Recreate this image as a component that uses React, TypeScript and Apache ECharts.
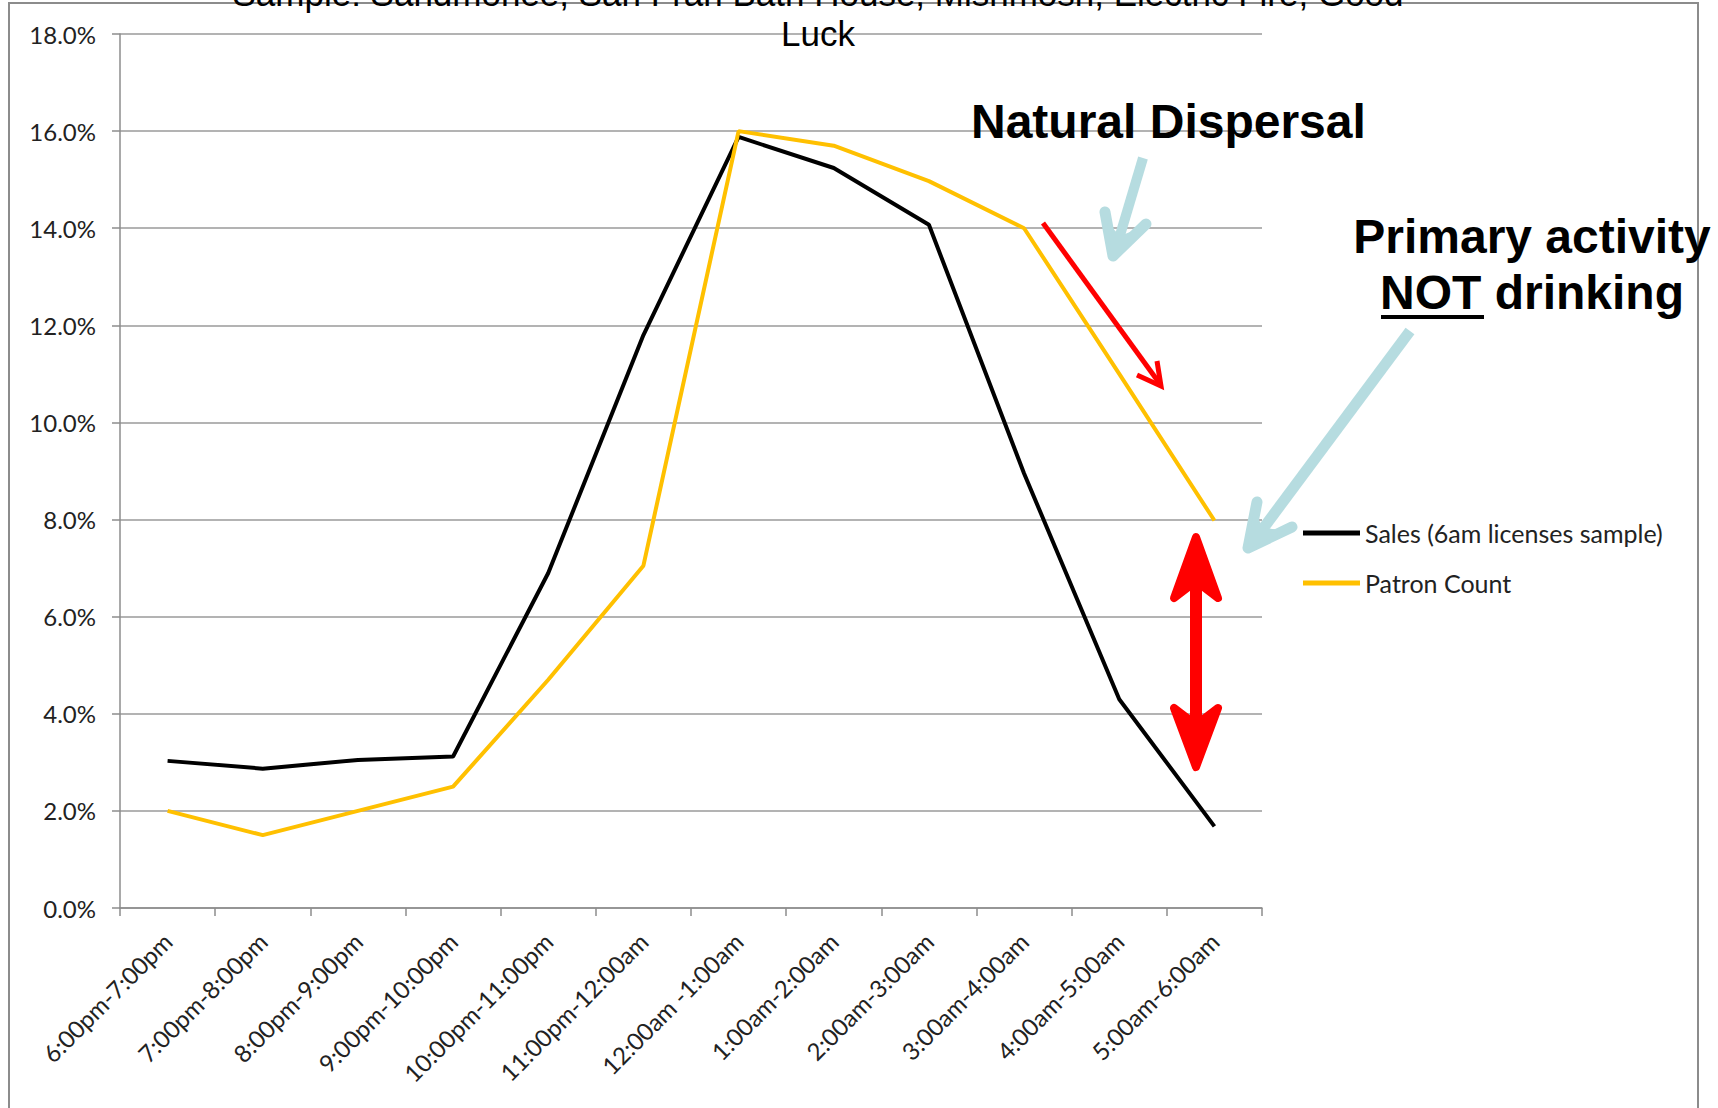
import React, { useEffect, useRef } from "react";
import * as echarts from "echarts";

const categories = [
  "6:00pm-7:00pm",
  "7:00pm-8:00pm",
  "8:00pm-9:00pm",
  "9:00pm-10:00pm",
  "10:00pm-11:00pm",
  "11:00pm-12:00am",
  "12:00am -1:00am",
  "1:00am-2:00am",
  "2:00am-3:00am",
  "3:00am-4:00am",
  "4:00am-5:00am",
  "5:00am-6:00am",
];
const salesValues = [3.03, 2.87, 3.05, 3.12, 6.9, 11.8, 15.88, 15.24, 14.07, 8.95, 4.3, 1.68];
const patronValues = [2.0, 1.5, 2.0, 2.5, 4.7, 7.05, 16.0, 15.7, 14.97, 14.0, 11.0, 7.98];
const yTicks = { min: 0, max: 18, interval: 2 };
const titleLine1 = "Sample: Sandmonee, San Fran Bath House, Mishmosh, Electric Fire, Good";
const titleLine2 = "Luck";
const seriesNames = ["Sales (6am licenses sample)", "Patron Count"];

const BLUE = "#b6dce0";
const RED = "#ff0000";

export default function App() {
  const ref = useRef<HTMLDivElement>(null);
  useEffect(() => {
    if (!ref.current) return;
    const chart = echarts.init(ref.current, undefined, { renderer: "svg" });
    const option: any = {
      animation: false,
      backgroundColor: "#ffffff",
      grid: { left: 120, right: 456, top: 34, bottom: 200, containLabel: false },
      legend: {
        orient: "vertical",
        left: 1298,
        top: 514,
        itemWidth: 57,
        itemHeight: 5,
        itemGap: 22,
        icon: "rect",
        textStyle: { fontFamily: "Lato", fontSize: 25, color: "#222", lineHeight: 28 },
        data: seriesNames,
      },
      xAxis: {
        type: "category",
        data: categories,
        boundaryGap: true,
        axisLine: { lineStyle: { color: "#8c8c8c", width: 1.5 } },
        axisTick: { show: true, length: 8, interval: 0, lineStyle: { color: "#8c8c8c", width: 1.5 } },
        axisLabel: {
          interval: 0,
          rotate: 45,
          margin: 29,
          fontFamily: "Lato",
          fontSize: 24,
          color: "#222",
        },
        splitLine: { show: false },
      },
      yAxis: {
        type: "value",
        min: yTicks.min,
        max: yTicks.max,
        interval: yTicks.interval,
        axisLine: { show: true, lineStyle: { color: "#8c8c8c", width: 1.5 } },
        axisTick: { show: true, length: 8, lineStyle: { color: "#8c8c8c", width: 1.5 } },
        axisLabel: {
          margin: 24,
          fontFamily: "Lato",
          fontSize: 24,
          color: "#222",
          formatter: (v: number) => v.toFixed(1) + "%",
        },
        splitLine: { show: true, lineStyle: { color: "#9a9a9a", width: 1.5 } },
      },
      series: [
        {
          name: seriesNames[0],
          type: "line",
          data: salesValues,
          showSymbol: false,
          symbol: "none",
          lineStyle: { color: "#000000", width: 4 },
          itemStyle: { color: "#000000" },
          z: 3,
        },
        {
          name: seriesNames[1],
          type: "line",
          data: patronValues,
          showSymbol: false,
          symbol: "none",
          lineStyle: { color: "#ffc000", width: 4 },
          itemStyle: { color: "#ffc000" },
          z: 3,
        },
      ],
      graphic: [
        {
          type: "rect",
          shape: { x: 9, y: 3, width: 1689, height: 1130 },
          style: { fill: "none", stroke: "#8c8c8c", lineWidth: 2 },
          z: 0,
          silent: true,
        },
        {
          type: "text",
          x: 818,
          y: -7,
          style: {
            text: titleLine1,
            fontFamily: "Liberation Sans",
            fontSize: 35,
            fill: "#000",
            align: "center",
            verticalAlign: "middle",
          },
          z: 10,
        },
        {
          type: "text",
          x: 818,
          y: 33,
          style: {
            text: titleLine2,
            fontFamily: "Liberation Sans",
            fontSize: 35,
            fill: "#000",
            align: "center",
            verticalAlign: "middle",
          },
          z: 10,
        },
        {
          type: "text",
          x: 971,
          y: 121,
          style: {
            text: "Natural Dispersal",
            fontFamily: "Liberation Sans",
            fontWeight: "bold",
            fontSize: 48,
            fill: "#000",
            align: "left",
            verticalAlign: "middle",
          },
          z: 10,
        },
        {
          type: "text",
          x: 1532,
          y: 236,
          style: {
            text: "Primary activity",
            fontFamily: "Liberation Sans",
            fontWeight: "bold",
            fontSize: 48,
            fill: "#000",
            align: "center",
            verticalAlign: "middle",
          },
          z: 10,
        },
        {
          type: "text",
          x: 1532,
          y: 292,
          style: {
            text: "NOT drinking",
            fontFamily: "Liberation Sans",
            fontWeight: "bold",
            fontSize: 48,
            fill: "#000",
            align: "center",
            verticalAlign: "middle",
          },
          z: 10,
        },
        {
          type: "rect",
          shape: { x: 1381, y: 315, width: 103, height: 4 },
          style: { fill: "#000" },
          z: 10,
        },
        {
          type: "line",
          shape: { x1: 1143, y1: 158, x2: 1118, y2: 242 },
          style: { stroke: BLUE, lineWidth: 10, lineCap: "butt" },
          z: 5,
        },
        {
          type: "polyline",
          shape: { points: [[1105, 212], [1113, 256], [1146, 224]] },
          style: { stroke: BLUE, lineWidth: 11, lineCap: "round", lineJoin: "round", fill: "none" },
          z: 5,
        },
        {
          type: "polygon",
          shape: { points: [[1113, 258], [1107, 222], [1120, 236], [1140, 228]] },
          style: { fill: BLUE },
          z: 5,
        },
        {
          type: "line",
          shape: { x1: 1410, y1: 331, x2: 1262, y2: 530 },
          style: { stroke: BLUE, lineWidth: 11, lineCap: "butt" },
          z: 5,
        },
        {
          type: "polyline",
          shape: { points: [[1257, 502], [1248, 548], [1292, 527]] },
          style: { stroke: BLUE, lineWidth: 11, lineCap: "round", lineJoin: "round", fill: "none" },
          z: 5,
        },
        {
          type: "polygon",
          shape: { points: [[1247, 550], [1254, 510], [1263, 528], [1285, 530]] },
          style: { fill: BLUE },
          z: 5,
        },
        {
          type: "line",
          shape: { x1: 1043, y1: 223, x2: 1160, y2: 384 },
          style: { stroke: RED, lineWidth: 5 },
          z: 6,
        },
        {
          type: "polyline",
          shape: { points: [[1137, 375], [1161, 386], [1157, 361]] },
          style: { stroke: RED, lineWidth: 5, fill: "none", lineJoin: "miter" },
          z: 6,
        },
        {
          type: "line",
          shape: { x1: 1196, y1: 580, x2: 1196, y2: 726 },
          style: { stroke: RED, lineWidth: 12 },
          z: 6,
        },
        {
          type: "polygon",
          shape: { points: [[1196, 537], [1218, 598], [1201, 585], [1191, 585], [1174, 598]] },
          style: { fill: RED, stroke: RED, lineWidth: 8, lineJoin: "round" },
          z: 6,
        },
        {
          type: "polygon",
          shape: { points: [[1196, 767], [1218, 708], [1201, 721], [1191, 721], [1174, 708]] },
          style: { fill: RED, stroke: RED, lineWidth: 8, lineJoin: "round" },
          z: 6,
        },
      ],
    };
    chart.setOption(option);
    return () => chart.dispose();
  }, []);
  return (
    <div
      ref={ref}
      style={{ position: "fixed", left: 0, top: 0, width: 1718, height: 1108, background: "#fff" }}
    />
  );
}
